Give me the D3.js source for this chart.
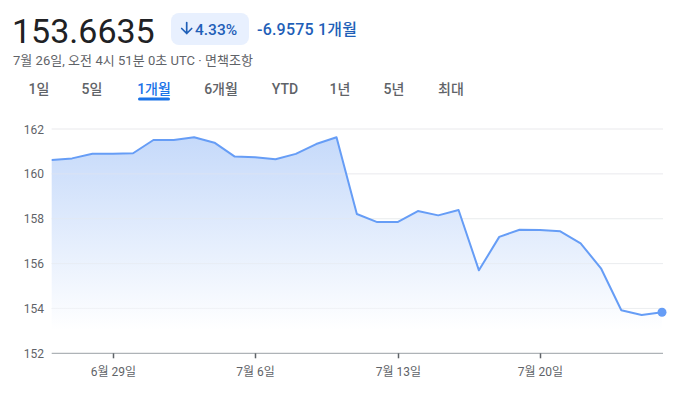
<!DOCTYPE html>
<html><head><meta charset="utf-8">
<script src="https://cdn.jsdelivr.net/npm/d3@7"></script>
<style>
html,body{margin:0;padding:0;background:#fff;}
svg{display:block;font-family:Roboto,"Noto Sans CJK KR",Arial,sans-serif;}
</style></head>
<body>
<svg id="c" width="687" height="394"></svg>
<script>
const dates = ["2024-06-26","2024-06-27","2024-06-28","2024-06-29","2024-06-30","2024-07-01","2024-07-02","2024-07-03","2024-07-04","2024-07-05","2024-07-06","2024-07-07","2024-07-08","2024-07-09","2024-07-10","2024-07-11","2024-07-12","2024-07-13","2024-07-14","2024-07-15","2024-07-16","2024-07-17","2024-07-18","2024-07-19","2024-07-20","2024-07-21","2024-07-22","2024-07-23","2024-07-24","2024-07-25","2024-07-26"];
const prices = [160.62,160.69,160.90,160.90,160.92,161.51,161.51,161.63,161.39,160.77,160.74,160.65,160.89,161.33,161.63,158.21,157.85,157.85,158.34,158.15,158.39,155.70,157.19,157.51,157.50,157.44,156.90,155.79,153.92,153.71,153.83];
const yTicks = [152,154,156,158,160,162];
const xTickDates = ["2024-06-29","2024-07-06","2024-07-13","2024-07-20"];
const xTickLabels = ["6월 29일","7월 6일","7월 13일","7월 20일"];
const tabs = ["1일","5일","1개월","6개월","YTD","1년","5년","최대"];
const tabX = [39,92,154,221,285,340,394,451];
const activeTab = "1개월";
const headline = "153.6635";
const pctChange = "4.33%";
const absChange = "-6.9575 1개월";
const subline = "7월 26일, 오전 4시 51분 0초 UTC · 면책조항";

const parse = d3.timeParse("%Y-%m-%d");
const data = dates.map((d,i)=>({date:parse(d), v:prices[i]}));
const svg = d3.select("#c");

// Header
svg.append("text").attr("x",12).attr("y",43).attr("font-size",34).attr("fill","#202124")
  .attr("font-family","Roboto,Arial,sans-serif").text(headline);
svg.append("rect").attr("x",171).attr("y",13).attr("width",78).attr("height",32).attr("rx",8).attr("fill","#e8f0fe");
svg.append("path").attr("d","M186.7,22.5 V33.5 M181.7,28.5 L186.7,33.5 L191.7,28.5")
  .attr("fill","none").attr("stroke","#1f5fb8").attr("stroke-width",1.7).attr("stroke-linecap","round").attr("stroke-linejoin","round");
svg.append("text").attr("x",195).attr("y",34.5).attr("font-size",15.5).attr("font-weight",500).attr("fill","#1f5fb8").text(pctChange);
svg.append("text").attr("x",257).attr("y",34.5).attr("font-size",16).attr("font-weight",500).attr("fill","#1f5fb8")
  .attr("textLength",100).attr("lengthAdjust","spacing").text(absChange);
svg.append("text").attr("x",13).attr("y",65).attr("font-size",13).attr("fill","#5f6368")
  .attr("textLength",240).attr("lengthAdjust","spacing").text(subline);

// Tabs
tabs.forEach((t,i)=>{
  const active = t===activeTab;
  svg.append("text").attr("x",tabX[i]).attr("y",94).attr("text-anchor","middle")
    .attr("font-size",14).attr("font-weight",500).attr("fill",active?"#1a73e8":"#5f6368").text(t);
  if(active){
    svg.append("rect").attr("x",tabX[i]-16).attr("y",97.5).attr("width",32).attr("height",3).attr("rx",1.5).attr("fill","#1a73e8");
  }
});

// Chart
const x = d3.scaleTime().domain(d3.extent(data,d=>d.date)).range([51.7,662]);
const y = d3.scaleLinear().domain([152,162]).range([353.3,129]);

const defs = svg.append("defs");
const g = defs.append("linearGradient").attr("id","ag").attr("x1",0).attr("x2",0)
  .attr("gradientUnits","userSpaceOnUse").attr("y1",129).attr("y2",330);
g.append("stop").attr("offset","0%").attr("stop-color","#c3d8fa");
g.append("stop").attr("offset","100%").attr("stop-color","#ffffff");

// grid
svg.append("g").selectAll("line").data(yTicks.filter(t=>t!==152)).join("line")
  .attr("x1",51.7).attr("x2",663).attr("y1",d=>y(d)).attr("y2",d=>y(d))
  .attr("stroke","#f1f3f4").attr("stroke-width",1);

// area
svg.append("path").datum(data)
  .attr("d", d3.area().x(d=>x(d.date)).y0(y(152)).y1(d=>y(d.v)))
  .attr("fill","url(#ag)");
svg.append("g").selectAll("line").data(yTicks.filter(t=>t!==152)).join("line")
  .attr("x1",51.7).attr("x2",663).attr("y1",d=>y(d)).attr("y2",d=>y(d))
  .attr("stroke","#e8eaed").attr("stroke-opacity",0.5).attr("stroke-width",1);

// y labels
svg.append("g").selectAll("text").data(yTicks).join("text")
  .attr("x",44).attr("y",d=>y(d)+4.5).attr("text-anchor","end")
  .attr("font-size",12).attr("fill","#5f6368").text(d=>d);

// x axis
svg.append("line").attr("x1",51.7).attr("x2",663).attr("y1",y(152)).attr("y2",y(152))
  .attr("stroke","#9aa0a6").attr("stroke-width",1);
const xt = svg.append("g");
xTickDates.forEach((d,i)=>{
  const px = Math.round(x(parse(d)))+0.5;
  xt.append("line").attr("x1",px).attr("x2",px).attr("y1",y(152)).attr("y2",y(152)+5)
    .attr("stroke","#5f6368").attr("stroke-width",1.5);
  xt.append("text").attr("x",px).attr("y",376).attr("text-anchor","middle")
    .attr("font-size",12).attr("fill","#5f6368").text(xTickLabels[i]);
});

// line
svg.append("path").datum(data)
  .attr("d", d3.line().x(d=>x(d.date)).y(d=>y(d.v)))
  .attr("fill","none").attr("stroke","#669df6").attr("stroke-width",2).attr("stroke-linejoin","round");

const last = data[data.length-1];
svg.append("circle").attr("cx",x(last.date)).attr("cy",y(last.v)).attr("r",4.5).attr("fill","#669df6");
</script>
</body></html>
